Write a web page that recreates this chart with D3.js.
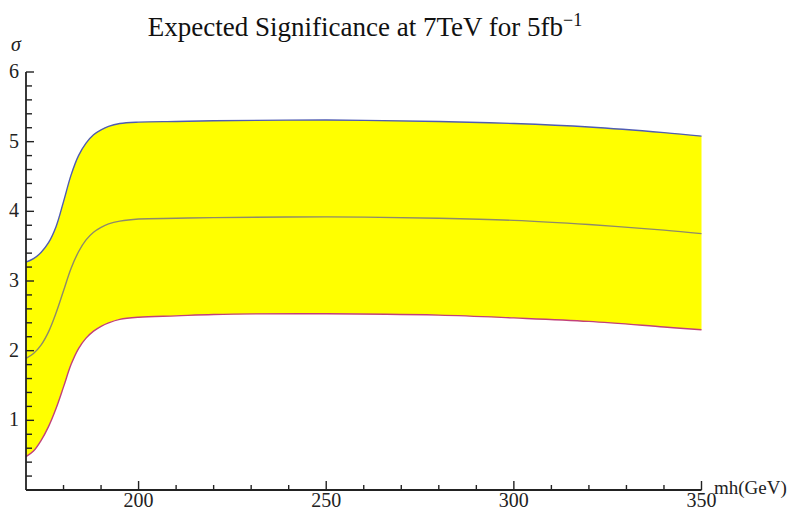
<!DOCTYPE html>
<html><head><meta charset="utf-8">
<script src="https://cdn.jsdelivr.net/npm/d3@7"></script>
<style>body{margin:0;background:#fff}svg{display:block}</style>
</head><body>
<svg id="c" width="793" height="513"></svg>
<script>
const mass = [170,172,174,176,178,180,182,184,186,188,190,192,195,200,210,220,250,280,300,320,340,350];
const upper = [3.27,3.32,3.41,3.55,3.78,4.14,4.52,4.80,4.98,5.10,5.17,5.22,5.26,5.28,5.29,5.30,5.31,5.29,5.26,5.21,5.13,5.08];
const middle = [1.89,1.96,2.08,2.27,2.54,2.86,3.18,3.42,3.59,3.70,3.77,3.82,3.86,3.89,3.90,3.91,3.92,3.90,3.87,3.81,3.73,3.68];
const lower = [0.48,0.56,0.71,0.91,1.17,1.48,1.80,2.03,2.18,2.28,2.35,2.40,2.45,2.48,2.50,2.52,2.53,2.51,2.47,2.42,2.34,2.30];
const xMajor = [200,250,300,350];
const yMajor = [1,2,3,4,5,6];
const title = "Expected Significance at 7TeV for 5fb";

const svg = d3.select("#c");
const x = d3.scaleLinear().domain([170,350]).range([26,701.5]);
const y = d3.scaleLinear().domain([0,6]).range([490,72]);
const data = mass.map((m,i)=>({m, u:upper[i], c:middle[i], l:lower[i]}));
const curve = d3.curveCatmullRom.alpha(0.5);

svg.append("path").datum(data)
  .attr("d", d3.area().x(d=>x(d.m)).y0(d=>y(d.l)).y1(d=>y(d.u)).curve(curve))
  .attr("fill","#ffff00");
const lines = [["u","#4f5cb3"],["c","#8e8a6a"],["l","#c2407a"]];
lines.forEach(([k,col])=>{
  svg.append("path").datum(data)
    .attr("d", d3.line().x(d=>x(d.m)).y(d=>y(d[k])).curve(curve))
    .attr("fill","none").attr("stroke",col).attr("stroke-width",1.4);
});

const serif = "'Liberation Serif','Times New Roman',serif";
const ax = svg.append("g").attr("stroke","#222").attr("fill","none");
ax.append("line").attr("x1",x(170)).attr("x2",x(350)).attr("y1",y(0)).attr("y2",y(0)).attr("stroke-width",1.8);
ax.append("line").attr("x1",x(170)).attr("x2",x(170)).attr("y1",y(0)).attr("y2",y(6)).attr("stroke-width",1.8);
d3.range(180,351,10).forEach(v=>{
  const maj = xMajor.includes(v);
  ax.append("line").attr("x1",x(v)).attr("x2",x(v)).attr("y1",y(0)).attr("y2",y(0)-(maj?9:5)).attr("stroke-width",1.4);
});
d3.range(1,31).map(i=>i/5).forEach(v=>{
  const maj = Math.abs(v-Math.round(v))<1e-9;
  ax.append("line").attr("x1",x(170)).attr("x2",x(170)+(maj?8:6)).attr("y1",y(v)).attr("y2",y(v)).attr("stroke-width",1.4);
});
const tx = svg.append("g").attr("font-family",serif).attr("font-size",20).attr("fill","#222");
xMajor.forEach(v=>tx.append("text").attr("x",x(v)).attr("y",507).attr("text-anchor","middle").text(v));
yMajor.forEach(v=>tx.append("text").attr("x",19).attr("y",y(v)+6).attr("text-anchor","end").text(v));
svg.append("text").attr("x",714).attr("y",494).attr("font-family",serif).attr("font-size",19).attr("fill","#222").text("mh(GeV)");
svg.append("text").attr("x",11).attr("y",51).attr("font-family",serif).attr("font-style","italic").attr("font-size",20).attr("fill","#222").text("σ");
const t = svg.append("text").attr("x",365).attr("y",36).attr("text-anchor","middle").attr("font-family",serif).attr("font-size",27).attr("fill","#111").text(title);
t.append("tspan").attr("dy",-10).attr("font-size",18).text("−1");
</script>
</body></html>
